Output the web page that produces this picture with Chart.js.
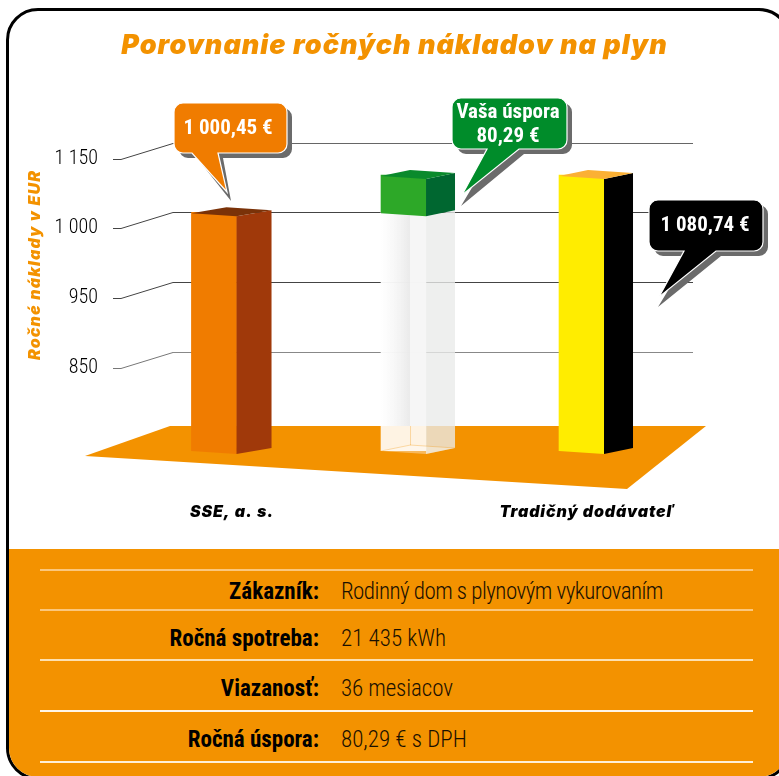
<!DOCTYPE html>
<html lang="sk">
<head>
<meta charset="utf-8">
<title>Porovnanie ročných nákladov na plyn</title>
<script src="https://cdn.jsdelivr.net/npm/chart.js@4/dist/chart.umd.js"></script>
<style>
html,body{margin:0;padding:0;width:779px;height:776px;overflow:hidden;background:#fff}
#frame{position:absolute;left:6px;top:8px;width:785px;height:772px;box-sizing:border-box;border:3px solid #000;border-radius:32px;overflow:hidden;background:#fff}
#band{position:absolute;left:0;right:0;top:538px;bottom:0;background:#f39200}
#rows{position:absolute;left:0;top:0;width:779px;height:776px}
.rule{position:absolute;left:40px;width:713px}
.lab,.val{position:absolute;font-family:Roboto,"Liberation Sans",sans-serif;font-stretch:condensed;font-size:23px;line-height:30px;color:#000;white-space:nowrap}
.lab{right:460px;font-weight:bold}
.val{left:341px;color:#1a1000;font-weight:300}
canvas{position:absolute;left:0;top:0}
</style>
</head>
<body>
<div id="frame"><div id="band"></div></div>
<div id="rows"></div>
<canvas id="c" width="779" height="776"></canvas>
<script>
// ---------- data ----------
const chartTitle = 'Porovnanie ročných nákladov na plyn';
const axisTitle = 'Ročné náklady v EUR';
const categories = ['SSE, a. s.', '', 'Tradičný dodávateľ'];
const annualCost = [1000.45, 1000.45, 1080.74];
const annualSaving = [null, 80.29, null];
const tickValues = [850, 950, 1000, 1150];
const tickLabels = ['850', '950', '1 000', '1 150'];
const footerLabels = ['Zákazník:', 'Ročná spotreba:', 'Viazanosť:', 'Ročná úspora:'];
const footerValues = ['Rodinný dom s plynovým vykurovaním', '21 435 kWh', '36 mesiacov', '80,29 € s DPH'];

// ---------- axis layout (the source axis is broken: equal steps for unequal values) ----------
const axisValues = [710, 850, 950, 1000, 1150];
const axisDecimals = [0, 0.3214, 0.5487, 0.7744, 1];
const barCenters = [0.0789, 0.4433, 0.7856];
const labelCenters = [0.1135, 0.5, 0.796];
const barDepths = [35, 29, 29];

class BrokenLinearScale extends Chart.LinearScale {
  static id = 'brokenLinear';
  static defaults = {};
  buildTicks() { return tickValues.map(v => ({ value: v })); }
  getPixelForValue(v) {
    if (v <= axisValues[0]) return this.getPixelForDecimal(0);
    let i = 0;
    while (i < axisValues.length - 2 && v > axisValues[i + 1]) i++;
    const t = (v - axisValues[i]) / (axisValues[i + 1] - axisValues[i]);
    return this.getPixelForDecimal(axisDecimals[i] + t * (axisDecimals[i + 1] - axisDecimals[i]));
  }
  _computeLabelArea() { return undefined; }
  drawLabels(area) {
    const ctx = this.ctx, keep = ctx.letterSpacing;
    ctx.letterSpacing = '0px';
    super.drawLabels(area);
    ctx.letterSpacing = keep;
  }
}
class PlacedCategoryScale extends Chart.CategoryScale {
  static id = 'placedCategory';
  static defaults = {};
  getPixelForValue(v) { return this.left + barCenters[v] * this.width; }
  getPixelForTick(i) { return this.left + labelCenters[i] * this.width; }
  drawLabels(area) {
    const ctx = this.ctx, keep = ctx.letterSpacing;
    ctx.letterSpacing = '0.9px';
    super.drawLabels(area);
    ctx.letterSpacing = keep;
  }
}
Chart.register(BrokenLinearScale, PlacedCategoryScale);

// ---------- footer table ----------
const rowsEl = document.getElementById('rows');
const ruleY = [570, 610, 660, 711, 762];
const ruleStyle = ['#fbc77c', '#fbc77c', '#fde0b0', '#fff6e6', '#fff0d8'];
const textY = [577, 624, 674, 725];
const valueTracking = ['-0.53px', '0', '-0.1px', '0'];
ruleY.forEach((y, i) => {
  const d = document.createElement('div');
  d.className = 'rule';
  d.style.top = (y - 1) + 'px';
  d.style.height = i < 3 ? '2px' : '1.5px';
  d.style.background = ruleStyle[i];
  rowsEl.appendChild(d);
});
footerLabels.forEach((t, i) => {
  const a = document.createElement('div');
  a.className = 'lab'; a.textContent = t; a.style.top = textY[i] + 'px';
  const b = document.createElement('div');
  b.className = 'val'; b.textContent = footerValues[i]; b.style.top = textY[i] + 'px';
  b.style.letterSpacing = valueTracking[i];
  rowsEl.appendChild(a); rowsEl.appendChild(b);
});

// ---------- helpers ----------
function euro(v) {
  const p = v.toFixed(2).split('.');
  return p[0].replace(/\B(?=(\d{3})+$)/g, ' ') + ',' + p[1] + ' €';
}
function poly(ctx, pts, fill) {
  ctx.beginPath();
  pts.forEach((p, i) => i ? ctx.lineTo(p[0], p[1]) : ctx.moveTo(p[0], p[1]));
  ctx.closePath();
  ctx.fillStyle = fill;
  ctx.fill();
}
function calloutPath(ctx, b, tail, tip, dx, dy) {
  const r = 9, x0 = b[0] + dx, y0 = b[1] + dy, x1 = b[2] + dx, y1 = b[3] + dy;
  ctx.beginPath();
  ctx.moveTo(x0 + r, y0);
  ctx.arcTo(x1, y0, x1, y1, r);
  ctx.arcTo(x1, y1, x0, y1, r);
  ctx.lineTo(tail[1] + dx, y1);
  ctx.lineTo(tip[0], tip[1]);
  ctx.lineTo(tail[0] + dx, y1);
  ctx.arcTo(x0, y1, x0, y0, r);
  ctx.arcTo(x0, y0, x1, y0, r);
  ctx.closePath();
}
function callout(ctx, c) {
  ctx.save();
  calloutPath(ctx, c.box, c.tail, c.shadowTip, 5, 5);
  ctx.fillStyle = '#6b6b6b';
  ctx.fill();
  calloutPath(ctx, c.box, c.tail, c.tip, 0, 0);
  ctx.fillStyle = c.fill;
  ctx.fill();
  ctx.strokeStyle = '#fff';
  ctx.lineWidth = 1.2;
  ctx.stroke();
  ctx.fillStyle = '#fff';
  ctx.font = 'bold condensed 21px Roboto,"Liberation Sans",sans-serif';
  ctx.textAlign = 'center';
  ctx.textBaseline = 'middle';
  c.lines.forEach((t, i) => ctx.fillText(t, c.cx, c.ys[i]));
  ctx.restore();
}

const faces = [
  { front: '#f07c00', side: '#a0390a', top: '#7a3208' },
  { front: '#2da828', side: '#006730', top: '#0a8a2c' },
  { front: '#ffed00', side: '#000000', top: '#fbb034' }
];

const scenery = {
  id: 'scenery',
  beforeDraw(chart) { chart.ctx.letterSpacing = '1px'; },
  beforeDatasetsDraw(chart) {
    const ctx = chart.ctx, y = chart.scales.y;
    ctx.letterSpacing = '0px';
    poly(ctx, [[85, 456], [170, 426], [706, 426], [627, 489]], '#f39200');
    ctx.save();
    ctx.lineWidth = 1;
    tickValues.forEach(v => {
      const py = Math.round(y.getPixelForValue(v)) + 0.5;
      ctx.strokeStyle = v === 850 ? '#777' : '#444';
      ctx.beginPath();
      ctx.moveTo(113, py + 16);
      ctx.lineTo(121, py + 16);
      ctx.lineTo(173, py);
      ctx.stroke();
    });
    ctx.restore();
  },
  afterDatasetsDraw(chart) {
    const ctx = chart.ctx;
    const costBars = chart.getDatasetMeta(0).data;
    const saveBars = chart.getDatasetMeta(1).data;
    costBars.forEach((bar, i) => {
      const W = bar.width, L = bar.x - W / 2, d = barDepths[i];
      const R = L + W, B = bar.base;
      const bottom = [[L, B], [R, B + 3], [R + d, B - 3]];
      if (i === 1) {
        // the transparent "ghost" column below the saving block
        const top = bar.y + 1;
        poly(ctx, [[L, top], [R, top + 3], [R, B + 3], [L, B]], 'rgba(255,255,255,.12)');
        poly(ctx, [[R, top + 3], [R + d, top - 3], [R + d, B - 3], [R, B + 3]], 'rgba(233,235,233,.79)');
        ctx.save();
        const g = ctx.createLinearGradient(L, 0, L + d, 0);
        g.addColorStop(0, 'rgba(255,255,255,.6)');
        g.addColorStop(1, 'rgba(232,232,232,.9)');
        ctx.fillStyle = g;
        ctx.fillRect(L, top, d, 426 - top);
        ctx.fillStyle = 'rgba(245,245,245,.9)';
        ctx.fillRect(L + d, top, W - d, 426 - top);
        ctx.restore();
        poly(ctx, [[L, B], [L + d, B - 6], [R + d, B - 3], [R, B + 3]], 'rgba(255,255,255,.28)');
        ctx.save();
        ctx.strokeStyle = 'rgba(243,146,0,.3)';
        ctx.beginPath();
        ctx.moveTo(L + d + 0.5, 426); ctx.lineTo(L + d + 0.5, B - 6);
        ctx.lineTo(L, B); ctx.moveTo(L + d, B - 6); ctx.lineTo(R + d, B - 3);
        ctx.stroke();
        ctx.restore();
        const sb = saveBars[i];
        const t2 = sb.y + 1, f = faces[1];
        poly(ctx, [[L, t2], [R, t2 + 3], [R, top + 3], [L, top]], f.front);
        poly(ctx, [[R, t2 + 3], [R + d, t2 - 3], [R + d, top - 3], [R, top + 3]], f.side);
        poly(ctx, [[L, t2], [L + d, t2 - 6], [R + d, t2 - 3], [R, t2 + 3]], f.top);
        return;
      }
      const t = bar.y + 1, f = faces[i];
      poly(ctx, [[L, t], [R, t + 3], bottom[1], bottom[0]], f.front);
      poly(ctx, [[R, t + 3], [R + d, t - 3], bottom[2], bottom[1]], f.side);
      poly(ctx, [[L, t], [L + d, t - 6], [R + d, t - 3], [R, t + 3]], f.top);
    });
  },
  afterDraw(chart) {
    const ctx = chart.ctx;
    ctx.save();
    ctx.translate(35, 265);
    ctx.rotate(-Math.PI / 2);
    ctx.font = 'italic 900 16px Inter,Roboto,sans-serif';
    ctx.fillStyle = '#f39200';
    ctx.textAlign = 'center';
    ctx.textBaseline = 'middle';
    ctx.letterSpacing = '1.15px';
    ctx.fillText(axisTitle, 0, 0);
    ctx.restore();
    callout(ctx, { box: [174, 103, 287, 153], tail: [192, 218], tip: [227, 192], shadowTip: [231, 201],
      fill: '#f07c00', lines: [euro(annualCost[0])], cx: 228, ys: [129] });
    callout(ctx, { box: [452, 98, 567, 149], tail: [487, 519], tip: [462, 195], shadowTip: [461, 206],
      fill: '#008c2a', lines: ['Vaša úspora', euro(annualSaving[1])], cx: 508, ys: [113, 137] });
    callout(ctx, { box: [649, 200, 763, 251], tail: [684, 716], tip: [659, 297], shadowTip: [658, 307],
      fill: '#000', lines: [euro(annualCost[2])], cx: 705, ys: [226] });
  }
};

new Chart(document.getElementById('c'), {
  type: 'bar',
  data: {
    labels: categories,
    datasets: [
      { label: 'Ročné náklady', data: annualCost, barThickness: 45,
        backgroundColor: ['#f07c00', 'rgba(255,255,255,.88)', '#ffed00'] },
      { label: 'Vaša úspora', data: annualSaving, barThickness: 45, backgroundColor: '#2da828' }
    ]
  },
  options: {
    responsive: false,
    animation: false,
    events: [],
    layout: { padding: { left: 96, right: 86, top: 0, bottom: 0 } },
    plugins: {
      legend: { display: false },
      tooltip: { enabled: false },
      title: {
        display: true,
        text: chartTitle,
        color: '#f39200',
        font: { family: 'Inter,Roboto,sans-serif', size: 27, weight: '900', style: 'italic', lineHeight: 1.2 },
        padding: { top: 30, bottom: 80.6 }
      }
    },
    scales: {
      x: {
        type: 'placedCategory',
        stacked: true,
        afterFit(s) { s.height = 325; },
        grid: { display: false },
        border: { display: false },
        ticks: {
          autoSkip: false, maxRotation: 0, minRotation: 0, padding: 44, color: '#000',
          font: { family: 'Inter,Roboto,sans-serif', size: 16, weight: '900', style: 'italic' }
        }
      },
      y: {
        type: 'brokenLinear',
        stacked: true,
        min: 710,
        max: 1150,
        afterFit(s) { s.width = 77; },
        border: { display: false },
        grid: {
          drawTicks: false,
          lineWidth: 1,
          color: c => c.tick && c.tick.value === 850 ? '#888' : (c.tick && c.tick.value === 1150 ? '#666' : '#444')
        },
        ticks: {
          autoSkip: false, padding: 75, labelOffset: 16, color: '#000',
          font: { family: 'Roboto,"Liberation Sans",sans-serif', size: 20, weight: '300 condensed' },
          callback: (v, i) => tickLabels[i]
        }
      }
    }
  },
  plugins: [scenery]
});
</script>
</body>
</html>
